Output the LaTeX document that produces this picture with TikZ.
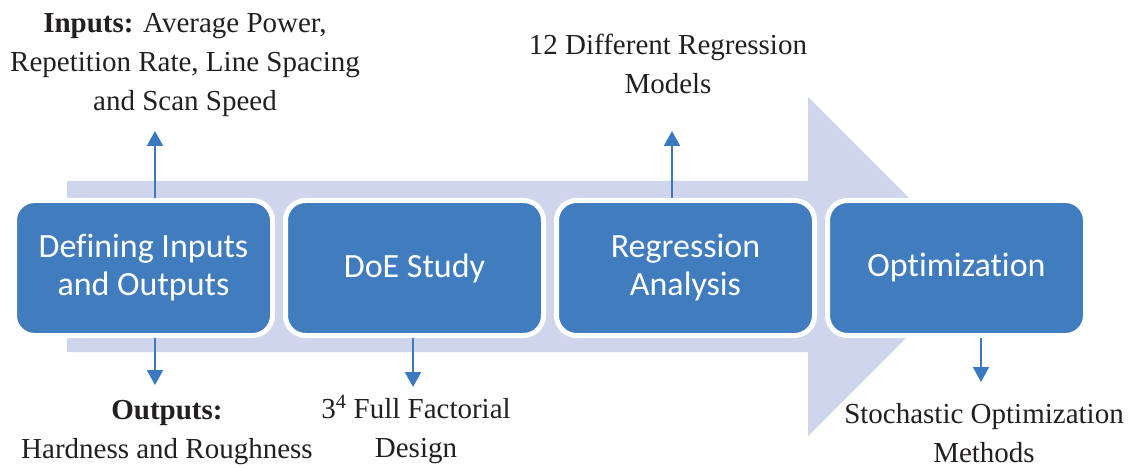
\documentclass[tikz,border=0pt]{standalone}
\usepackage{fontspec}
\setmainfont{Liberation Serif}
\newfontfamily\boxfont[Ligatures={NoCommon}]{Carlito}
\usetikzlibrary{arrows.meta,calc}
\definecolor{bgarrow}{RGB}{207,213,234}
\definecolor{boxblue}{RGB}{64,124,190}
\definecolor{linkblue}{RGB}{58,121,192}
\definecolor{notetext}{RGB}{35,31,32}
\tikzset{
  stage/.style={draw=white, line width=5pt, fill=boxblue, rounded corners=20pt,
    minimum width=258pt, minimum height=135pt, inner sep=0pt, text=white,
    align=center, font=\boxfont\fontsize{34}{38}\selectfont},
  note/.style={align=center, inner sep=0pt, text=notetext, anchor=base,
    font=\fontsize{29}{39}\selectfont},
  link/.style={draw=linkblue, line width=2pt,
    -{Triangle[length=15pt,width=16pt]}},
}
\begin{document}
\begin{tikzpicture}[x=1pt,y=-1pt]
\useasboundingbox (0,0) rectangle (1136,468);
% background process arrow
\fill[bgarrow] (67,181) -- (808,181) -- (808,97) -- (977.5,266.5)
  -- (808,436) -- (808,352) -- (67,352) -- cycle;
% stages
\node[stage] (b1) at (143.5,268) {Defining Inputs\\and Outputs};
\node[stage] (b2) at (414.5,268) {DoE Study};
\node[stage] (b3) at (685.5,268) {Regression\\Analysis};
\node[stage] (b4) at (956.5,268) {Optimization};
% arrow tips
\coordinate (t1) at (155,131);
\coordinate (t2) at (155,385);
\coordinate (t3) at (413,387);
\coordinate (t4) at (672,131);
\coordinate (t5) at (981,382);
\draw[link] (b1.north -| t1) -- (t1);
\draw[link] (b1.south -| t2) -- (t2);
\draw[link] (b2.south -| t3) -- (t3);
\draw[link] (b3.north -| t4) -- (t4);
\draw[link] (b4.south -| t5) -- (t5);
% notes (anchored at the baseline of their last line)
\node[note] (n1) at (185,111) {\textbf{Inputs:} Average Power,\\Repetition Rate, Line Spacing\\and Scan Speed};
\node[note] (n2) at (167,458) {\textbf{Outputs:}\\Hardness and Roughness};
\node[note] (n3) at (416,457) {3\textsuperscript{4} Full Factorial\\Design};
\node[note] (n4) at (668,94) {12 Different Regression\\Models};
\node[note] (n5) at (984,462) {Stochastic Optimization\\Methods};
\end{tikzpicture}
\end{document}
